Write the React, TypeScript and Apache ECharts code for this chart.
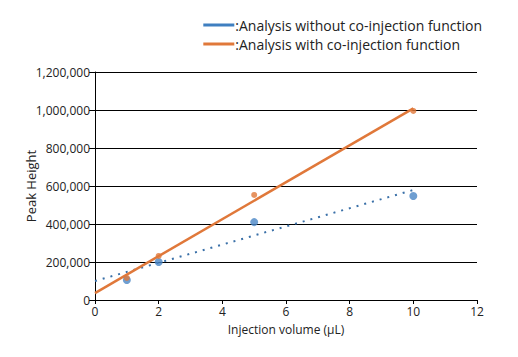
import React, { useEffect, useRef } from "react";
import * as echarts from "echarts";

const injectionVolumes = [1, 2, 5, 10];
const peakWithout = [105000, 200000, 410000, 547000];
const peakWith = [116000, 232000, 553000, 995000];
const seriesNames = [
  ":Analysis without co-injection function",
  ":Analysis with co-injection function",
];
const trendRange = [0, 10];

function fit(xs: number[], ys: number[]) {
  const n = xs.length;
  const mx = xs.reduce((a, b) => a + b, 0) / n;
  const my = ys.reduce((a, b) => a + b, 0) / n;
  let sxy = 0, sxx = 0;
  for (let i = 0; i < n; i++) {
    sxy += (xs[i] - mx) * (ys[i] - my);
    sxx += (xs[i] - mx) * (xs[i] - mx);
  }
  const k = sxy / sxx;
  const b = my - k * mx;
  return trendRange.map((x) => [x, k * x + b]);
}

const BLUE = "#3f7fc0";
const ORANGE = "#e0783a";
const FONT = "'Open Sans', 'Noto Sans', sans-serif";

export default function App() {
  const ref = useRef<HTMLDivElement>(null);
  useEffect(() => {
    if (!ref.current) return;
    const chart = echarts.init(ref.current, null, { renderer: "svg" });
    chart.setOption({
      animation: false,
      textStyle: { fontFamily: FONT },
      legend: {
        orient: "vertical",
        right: 31,
        top: 13,
        itemWidth: 31,
        itemHeight: 3,
        itemGap: 5,
        icon: "rect",
        textStyle: { fontSize: 14, color: "#222", padding: [0, 0, 0, -4] },
        data: seriesNames,
      },
      grid: { left: 95, right: 41, top: 72, bottom: 57 },
      xAxis: {
        type: "value",
        min: 0,
        max: 12,
        interval: 2,
        name: "Injection volume (µL)",
        nameLocation: "middle",
        nameGap: 23,
        nameMoveOverlap: false,
        nameTextStyle: { fontSize: 12, color: "#222" },
        axisLine: { lineStyle: { color: "#000", width: 1 } },
        axisTick: { show: true, length: 4, lineStyle: { color: "#000" } },
        axisLabel: { fontSize: 12, color: "#222", margin: 5 },
        splitLine: { show: false },
      },
      yAxis: {
        type: "value",
        min: 0,
        max: 1200000,
        interval: 200000,
        name: "Peak Height",
        nameLocation: "middle",
        nameGap: 58,
        nameMoveOverlap: false,
        nameTextStyle: { fontSize: 13, color: "#222" },
        axisLine: { show: true, lineStyle: { color: "#000", width: 1 } },
        axisTick: { show: true, length: 6, lineStyle: { color: "#000" } },
        axisLabel: {
          fontSize: 12,
          color: "#222",
          margin: 5,
          formatter: (v: number) => v.toLocaleString("en-US"),
        },
        splitLine: { show: true, lineStyle: { color: "#000", width: 1 } },
      },
      series: [
        {
          name: seriesNames[0],
          type: "line",
          data: fit(injectionVolumes, peakWithout),
          showSymbol: false,
          symbol: "none",
          itemStyle: { color: BLUE },
          lineStyle: { color: "#3a70a8", width: 2, type: [2, 6] },
          z: 3,
        },
        {
          name: seriesNames[1],
          type: "line",
          data: fit(injectionVolumes, peakWith),
          showSymbol: false,
          symbol: "none",
          itemStyle: { color: ORANGE },
          lineStyle: { color: ORANGE, width: 2.5 },
          z: 3,
        },
        {
          name: "points without",
          type: "scatter",
          data: injectionVolumes.map((x, i) => [x, peakWithout[i]]),
          symbolSize: 8,
          itemStyle: { color: "#4a86c6" },
          z: 4,
        },
        {
          name: "points with",
          type: "scatter",
          data: injectionVolumes.map((x, i) => [x, peakWith[i]]),
          symbolSize: 6,
          itemStyle: { color: ORANGE },
          z: 4,
        },
      ],
    });
    return () => chart.dispose();
  }, []);
  return <div ref={ref} style={{ width: 518, height: 357, margin: -8 }} />;
}
